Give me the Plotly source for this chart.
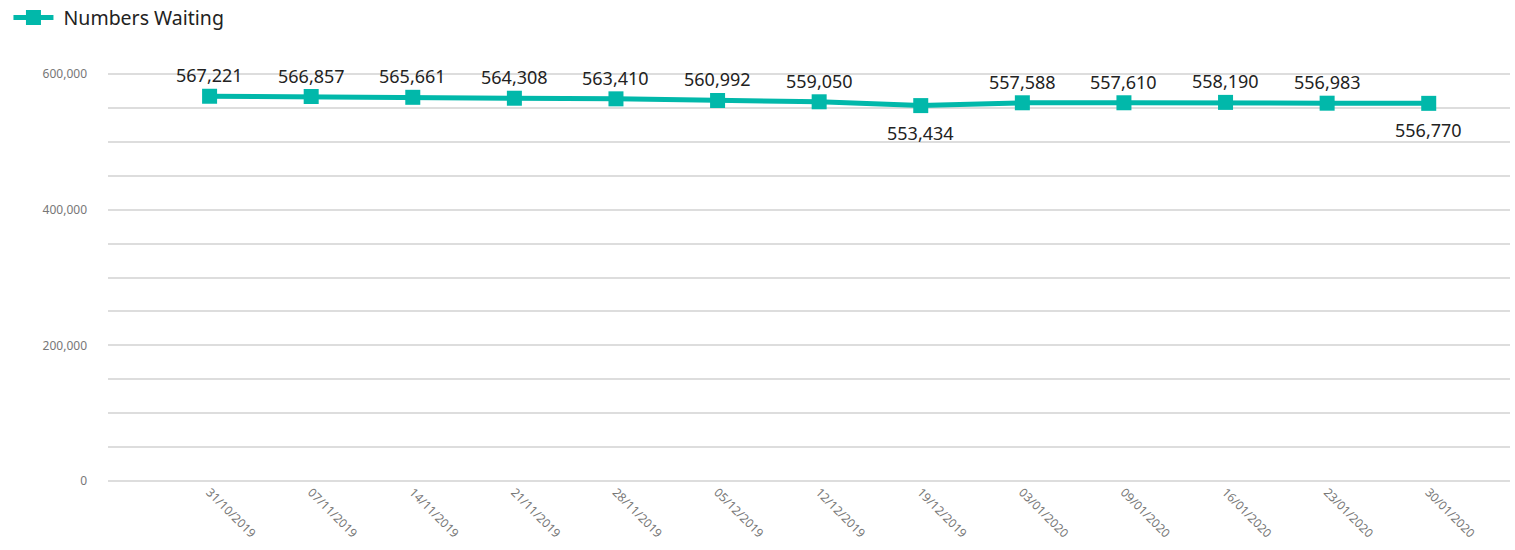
import plotly.graph_objects as go

dates = ["31/10/2019", "07/11/2019", "14/11/2019", "21/11/2019", "28/11/2019",
         "05/12/2019", "12/12/2019", "19/12/2019", "03/01/2020", "09/01/2020",
         "16/01/2020", "23/01/2020", "30/01/2020"]
waiting = [567221, 566857, 565661, 564308, 563410, 560992, 559050,
           553434, 557588, 557610, 558190, 556983, 556770]
label_below = [False] * 7 + [True] + [False] * 4 + [True]

grid_vals = list(range(0, 600001, 50000))
grid_text = [f"{v:,}" if v % 200000 == 0 else "" for v in grid_vals]

fig = go.Figure()
fig.add_trace(go.Scatter(
    x=dates, y=waiting, mode="lines+markers", name="\u00a0Numbers Waiting",
    line=dict(color="#01B8AA", width=5),
    marker=dict(symbol="square", size=15, color="#01B8AA"),
    cliponaxis=False,
))

for d, v, below in zip(dates, waiting, label_below):
    fig.add_annotation(x=d, y=v, text=f"{v:,}", showarrow=False,
                       yshift=-27 if below else 21, yanchor="middle",
                       font=dict(size=18, color="#222", family="Noto Sans"))

fig.update_layout(
    width=1515, height=550,
    margin=dict(l=108, r=5, t=73, b=68, autoexpand=False),
    paper_bgcolor="white", plot_bgcolor="white",
    font=dict(family="Noto Sans", color="#777"),
    showlegend=True,
    legend=dict(orientation="h", x=-0.071, y=1.135, xanchor="left", yanchor="middle",
                font=dict(size=19.5, color="#222"), itemwidth=40),
    xaxis=dict(type="category", range=[-1, 12.8], tickangle=45, showgrid=False,
               tickfont=dict(size=12, color="#777"), showline=False, zeroline=False,
               ticks="", automargin=False),
    yaxis=dict(range=[-1500, 601500], tickvals=grid_vals, ticktext=grid_text,
               showgrid=True, gridcolor="#DDDDDD", gridwidth=2, zeroline=False,
               tickfont=dict(size=12, color="#777"), ticks="", ticklabelstandoff=20,
               automargin=False),
)

fig.write_html("out.html", config={"displayModeBar": False},
               post_script="document.body.style.margin='0';")
